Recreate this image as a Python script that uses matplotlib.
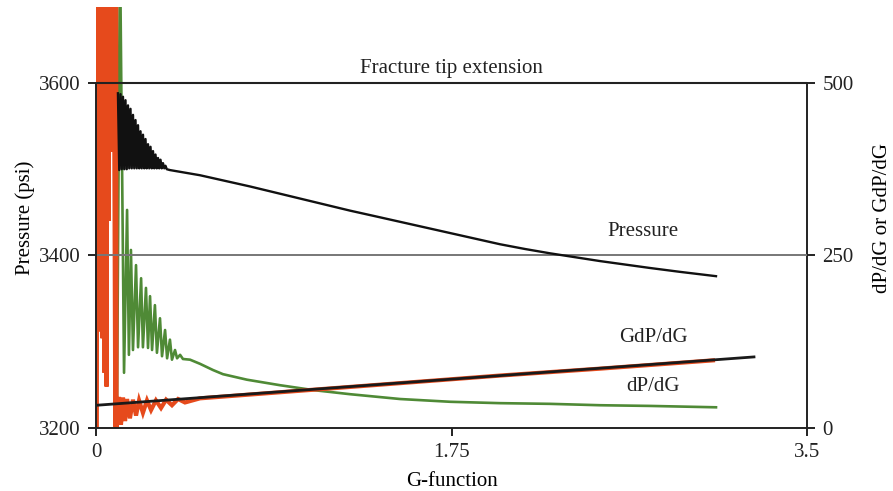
import matplotlib
matplotlib.use("Agg")
import matplotlib.pyplot as plt

plt.rcParams['font.family'] = ['Liberation Serif', 'DejaVu Serif']

# G-function values and series
pressure_g = [0.108, 0.1145, 0.1206, 0.1268, 0.1329, 0.1391, 0.1452, 0.1514, 0.1575, 0.1637,
              0.1698, 0.176, 0.1822, 0.1883, 0.1945, 0.2006, 0.2068, 0.2129, 0.2191, 0.2252,
              0.2314, 0.2375, 0.2437, 0.2498, 0.256, 0.2621, 0.2683, 0.2745, 0.2806, 0.2868,
              0.2929, 0.2991, 0.3052, 0.3114, 0.3175, 0.3237, 0.3298, 0.336, 0.3421, 0.3483,
              0.364, 0.438, 0.512, 0.635, 0.758, 0.881, 1.004, 1.127, 1.250, 1.374,
              1.497, 1.620, 1.743, 1.866, 1.989, 2.112, 2.235, 2.358, 2.481, 2.604,
              2.727, 2.875, 3.052]
pressure_psi = [3588, 3499, 3587, 3500, 3584, 3500, 3580, 3500, 3574, 3501,
                3570, 3501, 3563, 3501, 3557, 3501, 3551, 3501, 3544, 3501,
                3540, 3501, 3535, 3501, 3529, 3501, 3526, 3501, 3521, 3501,
                3517, 3501, 3513, 3501, 3511, 3501, 3507, 3501, 3504, 3500,
                3499, 3496, 3493, 3486.5, 3480, 3473, 3466, 3459, 3452, 3445.5,
                3439, 3432.5, 3426, 3419.5, 3413, 3407.5, 3402.5, 3398, 3393.5, 3389.5,
                3385.5, 3381, 3376]

green_g = [0.103, 0.118, 0.138, 0.153, 0.162, 0.172, 0.182, 0.197, 0.207, 0.222,
           0.231, 0.246, 0.256, 0.266, 0.276, 0.290, 0.300, 0.315, 0.325, 0.340,
           0.350, 0.364, 0.374, 0.389, 0.399, 0.414, 0.428, 0.463, 0.512, 0.576,
           0.625, 0.743, 0.906, 1.068, 1.250, 1.497, 1.743, 1.989, 2.235, 2.481,
           2.727, 3.052]
green_val = [7, 700, 80, 316, 106, 258, 113, 236, 117, 217,
             117, 203, 116, 191, 113, 178, 109, 159, 104, 142,
             101, 128, 99, 113, 101, 106, 100, 99, 93, 84,
             78, 70, 62, 55, 49, 42, 38, 36, 35, 33,
             32, 30]

red_g = [0.004, 0.007, 0.012, 0.017, 0.022, 0.027, 0.032, 0.037, 0.042, 0.047,
         0.052, 0.057, 0.062, 0.067, 0.072, 0.077, 0.082, 0.087, 0.095, 0.099,
         0.101, 0.113, 0.123, 0.133, 0.143, 0.153, 0.167, 0.182, 0.197, 0.212,
         0.231, 0.251, 0.271, 0.295, 0.320, 0.345, 0.374, 0.404, 0.438, 0.512,
         1.004, 1.497, 1.989, 2.481, 3.037]
red_val = [0, 700, 150, 700, 140, 700, 130, 700, 80, 700,
           60, 700, 300, 700, 500, 700, 400, 700, 2, 700,
           0, 45, 5, 44, 10, 42, 14, 41, 18, 40,
           22, 40, 26, 40, 29, 41, 33, 42, 37, 43,
           54, 65, 76, 86, 98]

line_g = [0.005, 3.239]
line_val = [33, 103]

tip_level = 3600
closure_level = 3400

x_ticks = [0, 1.75, 3.5]
x_ticklabels = ['0', '1.75', '3.5']
left_ticks = [3200, 3400, 3600]
right_ticks = [0, 250, 500]

fs = 15

fig = plt.figure(figsize=(8.93, 4.91), dpi=100)
ax = fig.add_axes([0.1075, 0.1283, 0.7962, 0.8574])
ax2 = ax.twinx()

ax.set_xlim(0, 3.5)
ax.set_ylim(3200, 3688)
ax2.set_ylim(0, 610)

ax.axhline(tip_level, color='#222222', lw=1.5, zorder=1)
ax.axhline(closure_level, color='#777777', lw=1.4, zorder=1)

ax2.plot(green_g, green_val, color='#4f8a36', lw=1.9, zorder=2)
ax2.plot(red_g, red_val, color='#e64a1c', lw=3.0, zorder=3, solid_joinstyle='miter')
ax2.plot(line_g, line_val, color='#1a1a1a', lw=2.0, zorder=4)
ax.plot(pressure_g, pressure_psi, color='#111111', lw=1.7, zorder=3)

ax.set_zorder(ax2.get_zorder() + 1)
ax.patch.set_visible(False)

for a in (ax, ax2):
    a.spines['top'].set_visible(False)
ax.spines['right'].set_visible(False)
ax2.spines['left'].set_visible(False)
ax2.spines['bottom'].set_visible(False)
ax.spines['left'].set_bounds(3200, 3600)
ax2.spines['right'].set_bounds(0, 500)
for sp in (ax.spines['left'], ax.spines['bottom'], ax2.spines['right']):
    sp.set_color('#222222')
    sp.set_linewidth(1.4)

ax.set_xticks(x_ticks)
ax.set_xticklabels(x_ticklabels)
ax.set_yticks(left_ticks)
ax2.set_yticks(right_ticks)
for a in (ax, ax2):
    a.tick_params(axis='both', labelsize=fs, length=6, width=1.4, colors='#222222', pad=5)

ax.set_xlabel('G-function', fontsize=fs, labelpad=7)
ax.set_ylabel('Pressure (psi)', fontsize=fs, labelpad=3)
ax2.set_ylabel('dP/dG or GdP/dG', fontsize=fs, labelpad=14, rotation=90)

ax.text(1.75, 3617, 'Fracture tip extension', ha='center', va='center', fontsize=fs, color='#222222')
ax.text(2.693, 3428, 'Pressure', ha='center', va='center', fontsize=fs, color='#222222')
ax2.text(2.742, 131, 'GdP/dG', ha='center', va='center', fontsize=fs, color='#222222')
ax2.text(2.742, 60, 'dP/dG', ha='center', va='center', fontsize=fs, color='#222222')

fig.savefig('out.png', dpi=100)
